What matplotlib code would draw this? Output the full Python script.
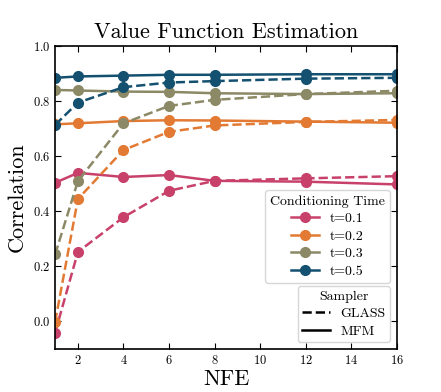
import numpy as np
import matplotlib
matplotlib.use("Agg")
import matplotlib.pyplot as plt
from matplotlib.lines import Line2D

plt.rcParams['font.family'] = 'serif'
plt.rcParams['font.serif'] = ['cmr10']
plt.rcParams['mathtext.fontset'] = 'cm'
plt.rcParams['axes.formatter.use_mathtext'] = True

nfe = [1, 2, 4, 6, 8, 12, 16]
times = ['t=0.1', 't=0.2', 't=0.3', 't=0.5']
colors = ['#c8416b', '#e27a33', '#8c8966', '#14506f']

# GLASS (dashed)
glass = [
    [-0.041, 0.252, 0.378, 0.474, 0.510, 0.519, 0.527],
    [-0.002, 0.444, 0.622, 0.688, 0.711, 0.724, 0.731],
    [0.243, 0.509, 0.719, 0.782, 0.804, 0.825, 0.837],
    [0.713, 0.794, 0.850, 0.867, 0.872, 0.881, 0.884],
]
# MFM (solid)
mfm = [
    [0.503, 0.539, 0.524, 0.531, 0.510, 0.507, 0.497],
    [0.715, 0.719, 0.727, 0.730, 0.729, 0.725, 0.721],
    [0.840, 0.838, 0.834, 0.833, 0.828, 0.825, 0.828],
    [0.884, 0.889, 0.892, 0.895, 0.895, 0.897, 0.897],
]

fig, ax = plt.subplots(figsize=(4.41, 3.92), dpi=100)

for i in range(len(times)):
    ax.plot(nfe, glass[i], '--', color=colors[i], lw=1.8, marker='o', ms=7)
    ax.plot(nfe, mfm[i], '-', color=colors[i], lw=1.8, marker='o', ms=7)

ax.set_xlim(1, 16)
ax.set_ylim(-0.1, 1.0)
ax.set_xticks([2, 4, 6, 8, 10, 12, 14, 16])
ax.set_yticks([0.0, 0.2, 0.4, 0.6, 0.8, 1.0])
ax.tick_params(direction='in', top=True, right=True, labelsize=9, length=4)
for s in ax.spines.values():
    s.set_linewidth(1.2)

ax.set_title('Value Function Estimation', fontsize=16)
ax.set_xlabel('NFE', fontsize=16, labelpad=2)
ax.set_ylabel('Correlation', fontsize=16)

h1 = [Line2D([], [], color=c, lw=1.8, marker='o', ms=7) for c in colors]
leg1 = ax.legend(h1, times, title='Conditioning Time', loc='center right',
                 bbox_to_anchor=(1.0, 0.371), fontsize=10, title_fontsize=10,
                 labelspacing=0.35, borderpad=0.35)
ax.add_artist(leg1)
h2 = [Line2D([], [], color='black', ls='--', lw=1.8),
      Line2D([], [], color='black', ls='-', lw=1.8)]
ax.legend(h2, ['GLASS', 'MFM'], title='Sampler', loc='lower right',
          fontsize=10, title_fontsize=10, labelspacing=0.35, borderpad=0.3)

fig.subplots_adjust(left=0.125, right=0.9, top=0.883, bottom=0.11)
fig.savefig('out.png', dpi=100)
